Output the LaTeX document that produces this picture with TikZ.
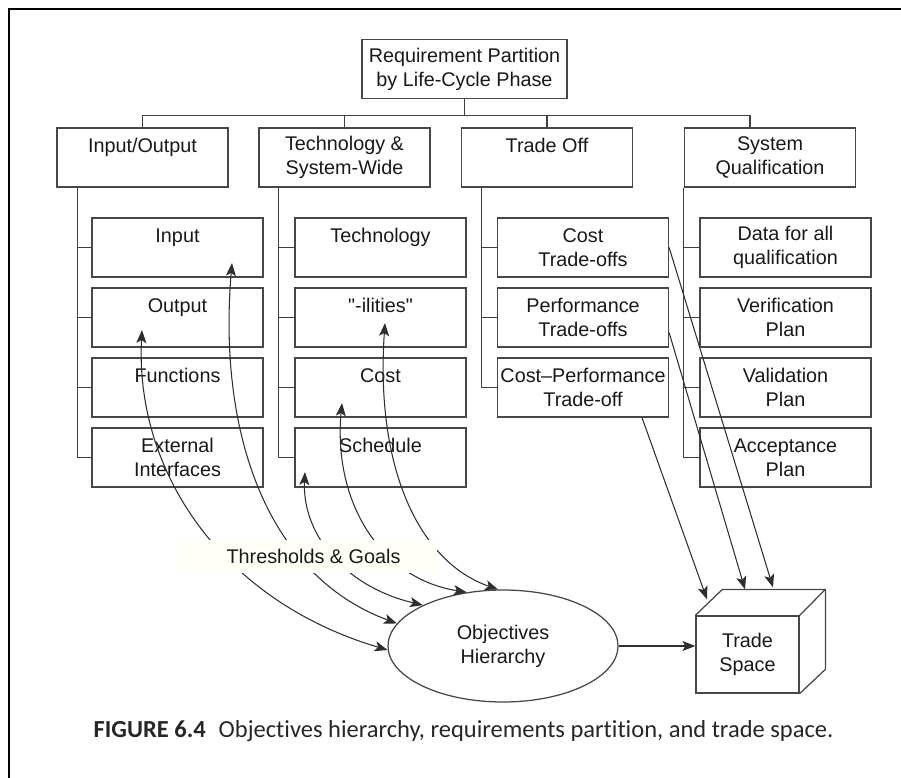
\documentclass[tikz,border=0pt]{standalone}
\usepackage{fontspec}
\setmainfont{Liberation Sans}[Ligatures=TeXOff]
\newfontfamily\capfont{Carlito}[Ligatures={TeXOff,NoCommon}]
\usetikzlibrary{shapes.geometric,arrows.meta}

\begin{document}
\begin{tikzpicture}[x=1pt,y=-1pt,
  >={Stealth[length=13pt,width=10pt,inset=3pt]},
  every node/.style={font=\fontsize{19.8}{24}\selectfont, text=black!90},
  box/.style={draw=black!72, line width=1.25pt, fill=white,
    minimum width=171pt, minimum height=59pt, inner sep=0pt, align=center},
  link/.style={draw=black!75, line width=1.1pt},
  curve/.style={draw=black!82, line width=1.05pt}]

\useasboundingbox (0,0) rectangle (901,778);

% page frame
\draw[line width=2.5pt] (9,778) -- (9,9) -- (901,9);

% root of the partition tree
\node[box, minimum width=205pt] (top) at (464.5,69) {Requirement Partition\\by Life-Cycle Phase};

% first level
\node[box] (io)    at (142.5,157.5) {Input/Output\\\mbox{}};
\node[box] (tech)  at (344.5,157.5) {Technology \&\\System-Wide};
\node[box] (trade) at (547,157.5)   {Trade Off\\\mbox{}};
\node[box] (sq)    at (770,157.5)   {System\\Qualification};

% second level, column 1
\node[box] (in)  at (177.5,247.5) {Input\\\mbox{}};
\node[box] (out) at (177.5,317.5) {Output\\\mbox{}};
\node[box] (fn)  at (177.5,387.5) {Functions\\\mbox{}};
\node[box] (ext) at (177.5,457.5) {External\\Interfaces};
% column 2
\node[box] (tec) at (380.5,247.5) {Technology\\\mbox{}};
\node[box] (ili) at (380.5,317.5) {"-ilities"\\\mbox{}};
\node[box] (cst) at (380.5,387.5) {Cost\\\mbox{}};
\node[box] (sch) at (380.5,457.5) {Schedule\\\mbox{}};
% column 3
\node[box] (ct) at (583,247.5) {Cost\\Trade-offs};
\node[box] (pt) at (583,317.5) {Performance\\Trade-offs};
\node[box] (cp) at (583,387.5) {Cost\textendash Performance\\Trade-off};
% column 4
\node[box] (dq) at (785.5,247.5) {Data for all\\qualification};
\node[box] (vp) at (785.5,317.5) {Verification\\Plan};
\node[box] (vl) at (785.5,387.5) {Validation\\Plan};
\node[box] (ap) at (785.5,457.5) {Acceptance\\Plan};

% bus from the root to the first level
\draw[link] (top.south) -- ++(0,16) coordinate (bus);
\draw[link] (io.north) -- (io.north |- bus) -- ([xshift=-20pt]sq.north |- bus) -- ([xshift=-20pt]sq.north);
\draw[link] (tech.north) -- (tech.north |- bus);
\draw[link] (trade.north) -- (trade.north |- bus);

% trunks to the second level
\foreach \c in {in,out,fn,ext}
  \draw[link] ([xshift=21pt]io.south west) |- (\c.west);
\foreach \c in {tec,ili,cst,sch}
  \draw[link] ([xshift=20pt]tech.south west) |- (\c.west);
\foreach \c in {ct,pt,cp}
  \draw[link] ([xshift=20.5pt]trade.south west) |- (\c.west);
\foreach \c in {dq,vp,vl,ap}
  \draw[link] (sq.south west) |- (\c.west);

% objectives hierarchy and trade space
\node[draw=black!72, line width=1.25pt, ellipse, minimum width=230pt, minimum height=112pt,
  inner sep=0pt, align=center] (obj) at (503,646) {Objectives\\Hierarchy};
\node[box, minimum width=103pt, minimum height=77pt] (ts) at (747.5,654.5) {Trade\\Space};
\draw[draw=black!72, line width=1.25pt, line join=round]
  (ts.north west) -- ++(27,-26) -- ++(103,0) coordinate (btr) -- (ts.north east);
\draw[draw=black!72, line width=1.25pt, line join=round]
  (btr) -- ++(0,80) -- (ts.south east);

% ends of the threshold links inside the boxes
\path (out.center) ++(-35.5,12.5) coordinate (tipOut);
\path (in.center)  ++(54.5,15.5)  coordinate (tipIn);
\path (sch.center) ++(-75.5,14.5) coordinate (tipSch);
\path (cst.center) ++(-38.5,15.5) coordinate (tipCst);
\path (ili.center) ++(4.5,5.5)    coordinate (tipIli);

% thresholds & goals links
\draw[curve,<->] (tipOut) .. controls +(-7,140)  and +(-168,-50) .. (obj.182);
\draw[curve,<->] (tipIn)  .. controls +(-14,167) and +(-132,-49) .. (obj.168);
\draw[curve,<->] (tipSch) .. controls +(-3,58)   and +(-83,-20)  .. (obj.153);
\draw[curve,<->] (tipCst) .. controls +(-9,97)   and +(-88,-14)  .. (obj.124);
\draw[curve,<->] (tipIli) .. controls +(-10,147) and +(-78,-27)  .. (obj.95);

\node[fill=yellow!3, minimum width=260pt, minimum height=33pt, inner sep=0pt] (thr)
  at (307,556.5) {\hspace*{13pt}Thresholds \& Goals};

% trade-offs feeding the trade space
\path (ts.north) ++(25.5,-28) coordinate (tipA);
\path (ts.north) ++(-2.5,-26) coordinate (tipB);
\path (ts.north) ++(-40.5,-16) coordinate (tipC);
\draw[curve,->] (ct.east) -- (tipA);
\draw[curve,->] ([yshift=15pt]pt.south east) -- (tipB);
\draw[curve,->] ([xshift=59pt]cp.south) -- (tipC);
\draw[curve,->] (obj.east) -- (obj.east -| ts.west);

% caption
\node[font=\capfont\fontsize{24.5}{26}\selectfont, text=black!85] (cap) at (463.5,731)
  {\textbf{FIGURE 6.4}\hspace{13pt}Objectives hierarchy, requirements partition, and trade space.};
\end{tikzpicture}
\end{document}
